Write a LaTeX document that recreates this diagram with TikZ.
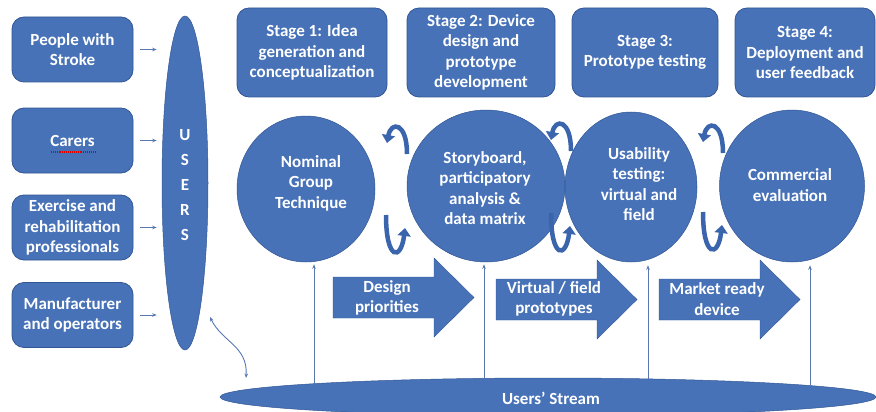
\documentclass[tikz,border=0pt]{standalone}
\usepackage{fontspec}
\setmainfont{Carlito}
\usetikzlibrary{arrows.meta,shapes.geometric}

\definecolor{fillblue}{RGB}{71,114,184}
\definecolor{edgeblue}{RGB}{50,86,148}
\definecolor{thinblue}{RGB}{88,120,178}
\definecolor{loopblue}{RGB}{58,100,172}

\tikzset{
  lbl/.style={text=white,font=\bfseries\fontsize{17}{20.5}\selectfont,align=center,inner sep=0pt},
  rbox/.style={draw=edgeblue,line width=0.8pt,fill=fillblue,rounded corners=12pt,lbl},
  blob/.style={ellipse,draw=edgeblue,line width=0.5pt,fill=fillblue,inner sep=0pt},
  feed/.style={-{Stealth[length=4.5pt,width=3.5pt]},thinblue,line width=0.9pt},
  loopline/.style={loopblue,line width=4.5pt,-{Triangle[length=8pt,width=13pt]}},
  toploop/.pic={\draw[loopline] (10,28) .. controls (10,-4) and (-6,-5) .. (-10,17);},
  botloop/.pic={\draw[loopline] (-7,-40) .. controls (-7,6) and (8,6) .. (12,-27);},
  blockarrow/.pic={\fill[fillblue,draw=edgeblue,line width=0.4pt]
     (0,0) -- (101,0) -- (101,-19) -- (141,20.5) -- (101,60) -- (101,41) -- (0,41) -- cycle;}
}

\begin{document}
\begin{tikzpicture}[x=1pt,y=-1pt]
\useasboundingbox (0,0) rectangle (876,412);

% user groups
\node[rbox,minimum width=121pt,minimum height=65pt] (b1) at (72.5,49.5) {People with\\Stroke};
\node[rbox,minimum width=121pt,minimum height=65pt] (b2) at (72.5,140.5) {Carers};
\node[rbox,minimum width=121pt,minimum height=65pt] (b3) at (72.5,227.5) {Exercise and\\rehabilitation\\professionals};
\node[rbox,minimum width=121pt,minimum height=65pt] (b4) at (72.5,315) {Manufacturer\\and operators};
\draw[red!85!black,densely dotted,line width=1.1pt] (51,152) -- (96,152);

% users column
\node[blob,minimum width=46pt,minimum height=334pt] (users) at (185,183) {};
\node[lbl,font=\bfseries\fontsize{17}{25}\selectfont] (userstxt) at (185,185) {U\\S\\E\\R\\S};

\foreach \b in {b1,b2,b3,b4}
  \draw[feed,shorten <=7pt,shorten >=5pt] (\b.east) -- (\b.east -| users.west);

% stage headers
\node[rbox,minimum width=150pt,minimum height=89pt] (st1) at (312,52.5) {Stage 1: Idea\\generation and\\conceptualization};
\node[rbox,minimum width=148pt,minimum height=89pt] (st2) at (481,52.5) {Stage 2: Device\\design and\\prototype\\development};
\node[rbox,minimum width=146pt,minimum height=89pt] (st3) at (645,52.5) {Stage 3:\\Prototype testing};
\node[rbox,minimum width=140pt,minimum height=89pt] (st4) at (805,52.5) {Stage 4:\\Deployment and\\user feedback};

% method circles
\node[blob,minimum width=138pt,minimum height=146pt] (c1) at (306,189) {};
\node[blob,minimum width=158pt,minimum height=152pt] (c2) at (486,186) {};
\node[blob,minimum width=132pt,minimum height=150pt] (c3) at (631,187) {};
\node[blob,minimum width=145pt,minimum height=152pt] (c4) at (792,186) {};
\node[lbl] (t1) at (311,183) {Nominal\\Group\\Technique};
\node[lbl] (t2) at (485,188) {Storyboard,\\participatory\\analysis \&\\data matrix};
\node[lbl] (t3) at (639,184) {Usability\\testing:\\virtual and\\field};
\node[lbl] (t4) at (790,185) {Commercial\\evaluation};

% feedback loops between stages
\pic at (397,126) {toploop};
\pic at (561,123) {toploop};
\pic at (713,125) {toploop};
\pic at (393,255) {botloop};
\pic at (558,253) {botloop};
\pic at (710,252) {botloop};

% outputs passed on
\pic at (333,277) {blockarrow};
\pic at (496,279) {blockarrow};
\pic at (659,279) {blockarrow};
\node[lbl] (o1) at (387,298) {Design\\priorities};
\node[lbl] (o2) at (554,299) {Virtual / field\\prototypes};
\node[lbl] (o3) at (717,299) {Market ready\\device};

% users' stream
\node[blob,minimum width=656pt,minimum height=38pt] (stream) at (548,397) {};
\node[lbl] (streamtxt) at (551,398) {Users’ Stream};

\coordinate (s1) at (314,384);
\coordinate (s2) at (484,379);
\coordinate (s3) at (648,379);
\coordinate (s4) at (810,385);
\draw[feed,shorten >=2pt] (s1) -- (s1 |- c1.south);
\draw[feed,shorten >=2pt] (s2) -- (s2 |- c2.south);
\draw[feed,shorten >=3pt] (s3) -- (s3 |- c3.south);
\draw[feed,shorten >=3pt] (s4) -- (s4 |- c4.south);

\coordinate (w1) at (210,317);
\coordinate (w2) at (246,378);
\draw[feed,{Stealth[length=4.5pt,width=3.5pt]}-{Stealth[length=4.5pt,width=3.5pt]}] (w1) .. controls (222,342) and (248,346) .. (w2);
\end{tikzpicture}
\end{document}
